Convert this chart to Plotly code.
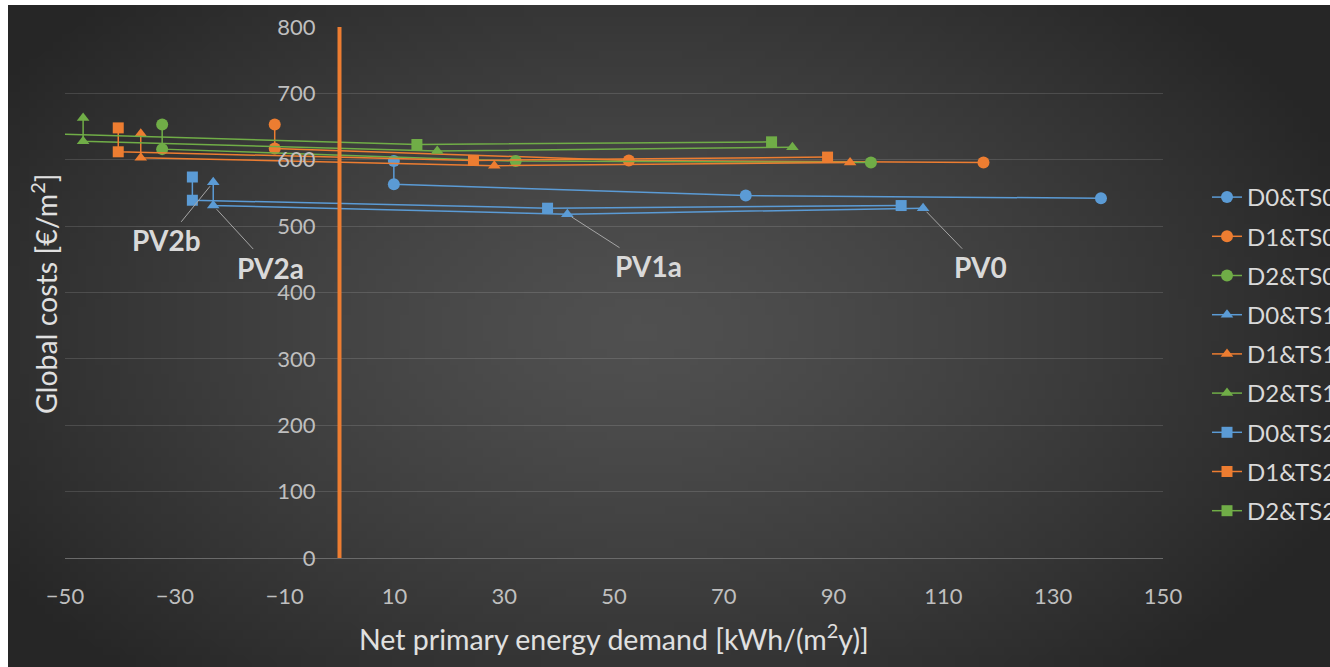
import base64, struct, zlib, math
import plotly.graph_objects as go

# ---------------- data ----------------
pv_labels = ["PV0", "PV1a", "PV2a", "PV2b"]

series_names = ["D0&TS0", "D1&TS0", "D2&TS0",
                "D0&TS1", "D1&TS1", "D2&TS1",
                "D0&TS2", "D1&TS2", "D2&TS2"]

d0ts0_x = [138.7, 74.0, 9.9, 9.9]
d0ts0_y = [542, 546, 563, 598]
d1ts0_x = [117.3, 52.7, -11.8, -11.8]
d1ts0_y = [596, 599, 617, 653]
d2ts0_x = [96.8, 32.1, -32.3, -32.3]
d2ts0_y = [596, 598, 616, 653]

d0ts1_x = [106.3, 41.5, -23.0, -23.0]
d0ts1_y = [527, 518, 531, 566]
d1ts1_x = [93.0, 28.2, -36.2, -36.2]
d1ts1_y = [596, 591, 603, 639]
d2ts1_x = [82.5, 17.8, -46.7, -46.7]
d2ts1_y = [619, 613, 628, 663]

d0ts2_x = [102.3, 37.9, -26.8, -26.8]
d0ts2_y = [531, 527, 539, 574]
d1ts2_x = [88.9, 24.4, -40.3, -40.3]
d1ts2_y = [604, 599, 612, 648]
d2ts2_x = [78.7, 14.1, -57.0, -57.0]
d2ts2_y = [627, 623, 640, 675]

ref_x = [0, 0]
ref_y = [0, 800]

x_ticks = [-50, -30, -10, 10, 30, 50, 70, 90, 110, 130, 150]
y_ticks = [0, 100, 200, 300, 400, 500, 600, 700, 800]

# ---------------- style ----------------
BLUE, ORANGE, GREEN = "#5B9BD5", "#ED7D31", "#70AD47"
FONT = "Lato"
W, H = 1330, 667
ML, MR, MT, MB = 65, 167, 27, 109

xs = [d0ts0_x, d1ts0_x, d2ts0_x, d0ts1_x, d1ts1_x, d2ts1_x, d0ts2_x, d1ts2_x, d2ts2_x]
ys = [d0ts0_y, d1ts0_y, d2ts0_y, d0ts1_y, d1ts1_y, d2ts1_y, d0ts2_y, d1ts2_y, d2ts2_y]
colors = [BLUE, ORANGE, GREEN] * 3
symbols = ["circle"] * 3 + ["triangle-up"] * 3 + ["square"] * 3
sizes = [12] * 3 + [11] * 3 + [11] * 3


# ---------------- background gradient PNG ----------------
def make_png(w, h, fn):
    raw = bytearray()
    for j in range(h):
        raw.append(0)
        for i in range(w):
            raw.extend(fn(i, j))
    def chunk(tag, data):
        c = tag + data
        return struct.pack(">I", len(data)) + c + struct.pack(">I", zlib.crc32(c) & 0xffffffff)
    png = b"\x89PNG\r\n\x1a\n"
    png += chunk(b"IHDR", struct.pack(">IIBBBBB", w, h, 8, 2, 0, 0, 0))
    png += chunk(b"IDAT", zlib.compress(bytes(raw), 9))
    png += chunk(b"IEND", b"")
    return "data:image/png;base64," + base64.b64encode(png).decode()

BX0, BY0, BX1, BY1 = 8, 5, 1330, 667
GW, GH = 160, 80
def grad(i, j):
    px = BX0 + (i + 0.5) / GW * (BX1 - BX0)
    py = BY0 + (j + 0.5) / GH * (BY1 - BY0)
    d = math.sqrt(((px - 640) / 760) ** 2 + ((py - 330) / 470) ** 2)
    d = min(d, 1.0)
    v = int(round(80 - (80 - 38) * d ** 1.3))
    return (v, v, v)

bg_src = make_png(GW, GH, grad)

pw = W - ML - MR
ph = H - MT - MB

fig = go.Figure()
for name, x, y, c, s, sz in zip(series_names, xs, ys, colors, symbols, sizes):
    fig.add_trace(go.Scatter(
        x=x, y=y, name=name, mode="lines+markers",
        line=dict(color=c, width=1.5),
        marker=dict(color=c, symbol=s, size=sz, line=dict(width=0)),
        legendgroup=name,
    ))

fig.add_trace(go.Scatter(x=ref_x, y=ref_y, mode="lines", showlegend=False,
                         line=dict(color=ORANGE, width=4), hoverinfo="skip"))

# annotations PV labels on D0&TS1 points
offsets = {"PV0": (57, 59), "PV1a": (81, 52), "PV2a": (57, 62), "PV2b": (-47, 58)}
for k, lab in enumerate(pv_labels):
    ax, ay = offsets[lab]
    fig.add_annotation(x=d0ts1_x[k], y=d0ts1_y[k], text="<b>" + lab + "</b>",
                       showarrow=True, arrowhead=0, arrowwidth=1, arrowcolor="#a6a6a6",
                       ax=ax, ay=ay, standoff=5,
                       font=dict(family=FONT, size=28, color="#d9d9d9"))

# axis titles as annotations
fig.add_annotation(x=(44 - ML) / pw, y=(H - MB - 294) / ph, xref="paper", yref="paper",
                   xanchor="center", yanchor="middle",
                   text="Global costs [€/m<sup>2</sup>]", textangle=-90, showarrow=False,
                   font=dict(family=FONT, size=28.5, color="#e0e0e0"))
fig.add_annotation(x=0.5, y=(H - MB - 637) / ph, xref="paper", yref="paper",
                   xanchor="center", yanchor="middle",
                   text="Net primary energy demand [kWh/(m<sup>2</sup>y)]", showarrow=False,
                   font=dict(family=FONT, size=28.5, color="#e0e0e0"))

fig.add_layout_image(dict(source=bg_src, xref="paper", yref="paper",
                          x=(BX0 - ML) / pw, y=(H - MB - BY0) / ph,
                          sizex=(BX1 - BX0) / pw, sizey=(BY1 - BY0) / ph,
                          xanchor="left", yanchor="top", sizing="stretch", layer="below"))

fig.update_layout(
    width=W, height=H,
    margin=dict(l=ML, r=MR, t=MT, b=MB, autoexpand=False),
    paper_bgcolor="white", plot_bgcolor="rgba(0,0,0,0)",
    font=dict(family=FONT, color="#bfbfbf"),
    showlegend=True,
    legend=dict(xref="container", yref="container", x=1207 / W, y=1 - 175 / H,
                xanchor="left", yanchor="top", bgcolor="rgba(0,0,0,0)",
                font=dict(family=FONT, size=24, color="#d9d9d9"),
                tracegroupgap=5, traceorder="grouped", maxheight=660),
    xaxis=dict(range=[-50, 150], tickvals=x_ticks, showgrid=False, zeroline=False,
               showline=True, linecolor="#6a6a6a", linewidth=1,
               tickfont=dict(family=FONT, size=22, color="#bfbfbf"),
               ticklabelstandoff=19, ticks=""),
    yaxis=dict(range=[0, 800], tickvals=y_ticks, anchor="free", position=0.25,
               showgrid=True, gridcolor="rgba(255,255,255,0.13)", gridwidth=1,
               zeroline=False, showline=False,
               tickfont=dict(family=FONT, size=22, color="#bfbfbf"),
               ticklabelstandoff=24, ticks=""),
)

fig.write_html("out.html", config={"displayModeBar": False},
               post_script="document.body.style.margin='0';document.body.style.overflow='hidden';")
